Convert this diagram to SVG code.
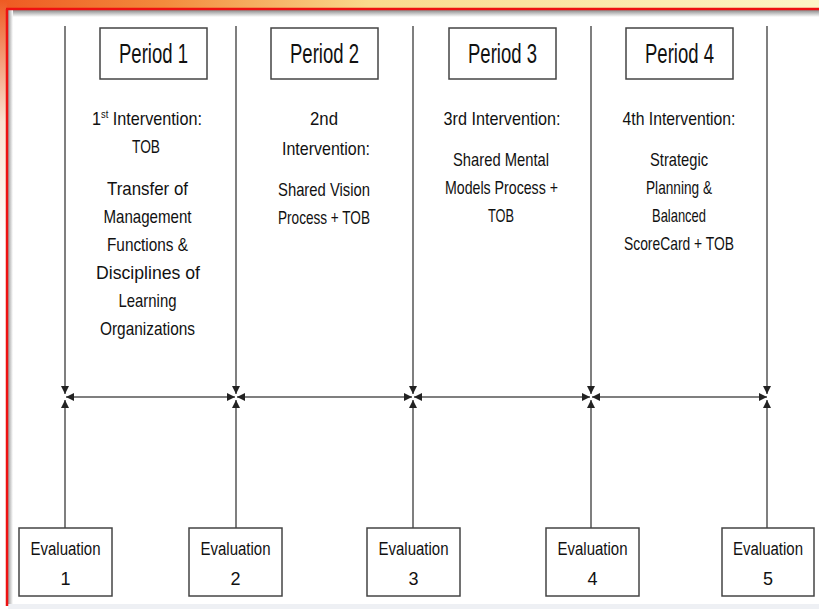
<svg xmlns="http://www.w3.org/2000/svg" width="819" height="609" viewBox="0 0 819 609">
<defs>
<linearGradient id="topband" x1="0" y1="0" x2="1" y2="0">
<stop offset="0" stop-color="#ee5a22"/>
<stop offset="0.2" stop-color="#f38a3c"/>
<stop offset="0.45" stop-color="#fad98c"/>
<stop offset="1" stop-color="#fdf6c6"/>
</linearGradient>
<linearGradient id="leftband" x1="0" y1="0" x2="0" y2="1">
<stop offset="0" stop-color="#ee5a22"/>
<stop offset="0.2" stop-color="#fbe3d2"/>
<stop offset="0.4" stop-color="#ffffff"/>
<stop offset="1" stop-color="#ffffff"/>
</linearGradient>
<linearGradient id="shadeTop" x1="0" y1="0" x2="0" y2="1">
<stop offset="0" stop-color="#8a8a8a"/>
<stop offset="1" stop-color="#ffffff"/>
</linearGradient>
<linearGradient id="shadeLeft" x1="0" y1="0" x2="1" y2="0">
<stop offset="0" stop-color="#9a9a9a"/>
<stop offset="1" stop-color="#ffffff"/>
</linearGradient>
<marker id="ah" viewBox="0 0 10 10" refX="10" refY="5" markerWidth="8" markerHeight="8" markerUnits="userSpaceOnUse" orient="auto-start-reverse">
<path d="M0,0 L10,5 L0,10 z" fill="#222"/>
</marker>
<style>
.box{fill:#fff;stroke:#444;stroke-width:1.5}
.ln{stroke:#555;stroke-width:1.5;fill:none}
.t{font-family:"Liberation Sans Narrow","Liberation Sans",Arial,sans-serif;fill:#111;text-anchor:middle}
.p{font-size:27px}
.b{font-size:19px}
.e{font-size:18px}
</style>
</defs>
<!-- frame -->
<rect x="0" y="0" width="819" height="609" fill="#ffffff"/>
<rect x="0" y="0" width="819" height="9" fill="url(#topband)"/>
<rect x="0" y="0" width="7" height="609" fill="url(#leftband)"/>
<rect x="8" y="10" width="811" height="7" fill="url(#shadeTop)"/>
<rect x="8" y="10" width="5" height="594" fill="url(#shadeLeft)"/>
<rect x="8" y="604" width="811" height="5" fill="#eef0f4"/>
<line x1="6" y1="9" x2="819" y2="9" stroke="#ee1111" stroke-width="2.5"/>
<line x1="7" y1="9" x2="7" y2="606" stroke="#ee1111" stroke-width="2.5"/>

<g id="connectors">
<line class="ln" x1="65" y1="26" x2="65" y2="394" marker-end="url(#ah)"/>
<line class="ln" x1="236" y1="26" x2="236" y2="394" marker-end="url(#ah)"/>
<line class="ln" x1="413" y1="26" x2="413" y2="394" marker-end="url(#ah)"/>
<line class="ln" x1="591" y1="26" x2="591" y2="394" marker-end="url(#ah)"/>
<line class="ln" x1="767" y1="26" x2="767" y2="394" marker-end="url(#ah)"/>
<line class="ln" x1="65" y1="528" x2="65" y2="400" marker-end="url(#ah)"/>
<line class="ln" x1="236" y1="528" x2="236" y2="400" marker-end="url(#ah)"/>
<line class="ln" x1="413" y1="528" x2="413" y2="400" marker-end="url(#ah)"/>
<line class="ln" x1="591" y1="528" x2="591" y2="400" marker-end="url(#ah)"/>
<line class="ln" x1="767" y1="528" x2="767" y2="400" marker-end="url(#ah)"/>
<line class="ln" x1="66" y1="397" x2="235" y2="397" marker-start="url(#ah)" marker-end="url(#ah)"/>
<line class="ln" x1="237" y1="397" x2="412" y2="397" marker-start="url(#ah)" marker-end="url(#ah)"/>
<line class="ln" x1="414" y1="397" x2="590" y2="397" marker-start="url(#ah)" marker-end="url(#ah)"/>
<line class="ln" x1="592" y1="397" x2="767" y2="397" marker-start="url(#ah)" marker-end="url(#ah)"/>
</g>

<g id="period1">
<rect class="box" x="100" y="28" width="107" height="51"/>
<text class="t p" x="153.5" y="63" textLength="69" lengthAdjust="spacingAndGlyphs">Period 1</text>
</g>
<g id="period2">
<rect class="box" x="271" y="28" width="107" height="51"/>
<text class="t p" x="324.5" y="63" textLength="69" lengthAdjust="spacingAndGlyphs">Period 2</text>
</g>
<g id="period3">
<rect class="box" x="449" y="28" width="107" height="51"/>
<text class="t p" x="502.5" y="63" textLength="69" lengthAdjust="spacingAndGlyphs">Period 3</text>
</g>
<g id="period4">
<rect class="box" x="626" y="28" width="107" height="51"/>
<text class="t p" x="679.5" y="63" textLength="69" lengthAdjust="spacingAndGlyphs">Period 4</text>
</g>

<g id="intervention1">
<text class="t b" x="147" y="125" textLength="110" lengthAdjust="spacingAndGlyphs">1<tspan font-size="11" dy="-7">st</tspan><tspan dy="7"> Intervention:</tspan></text>
<text class="t b" x="146" y="153" textLength="28" lengthAdjust="spacingAndGlyphs">TOB</text>
<text class="t b" x="147.5" y="195" textLength="81" lengthAdjust="spacingAndGlyphs">Transfer of</text>
<text class="t b" x="147.5" y="223" textLength="88" lengthAdjust="spacingAndGlyphs">Management</text>
<text class="t b" x="147.5" y="251" textLength="81" lengthAdjust="spacingAndGlyphs">Functions &amp;</text>
<text class="t b" x="148" y="279" textLength="104" lengthAdjust="spacingAndGlyphs">Disciplines of</text>
<text class="t b" x="147.5" y="307" textLength="58" lengthAdjust="spacingAndGlyphs">Learning</text>
<text class="t b" x="147.5" y="335" textLength="95" lengthAdjust="spacingAndGlyphs">Organizations</text>
</g>
<g id="intervention2">
<text class="t b" x="324" y="125" textLength="28" lengthAdjust="spacingAndGlyphs">2nd</text>
<text class="t b" x="326" y="155" textLength="88" lengthAdjust="spacingAndGlyphs">Intervention:</text>
<text class="t b" x="324" y="196" textLength="92" lengthAdjust="spacingAndGlyphs">Shared Vision</text>
<text class="t b" x="324" y="224" textLength="92" lengthAdjust="spacingAndGlyphs">Process + TOB</text>
</g>
<g id="intervention3">
<text class="t b" x="502" y="125" textLength="117" lengthAdjust="spacingAndGlyphs">3rd Intervention:</text>
<text class="t b" x="501" y="166" textLength="96" lengthAdjust="spacingAndGlyphs">Shared Mental</text>
<text class="t b" x="501.5" y="194" textLength="113" lengthAdjust="spacingAndGlyphs">Models Process +</text>
<text class="t b" x="501" y="222" textLength="26" lengthAdjust="spacingAndGlyphs">TOB</text>
</g>
<g id="intervention4">
<text class="t b" x="679" y="125" textLength="113" lengthAdjust="spacingAndGlyphs">4th Intervention:</text>
<text class="t b" x="679" y="166" textLength="58" lengthAdjust="spacingAndGlyphs">Strategic</text>
<text class="t b" x="679" y="194" textLength="66" lengthAdjust="spacingAndGlyphs">Planning &amp;</text>
<text class="t b" x="679" y="222" textLength="54" lengthAdjust="spacingAndGlyphs">Balanced</text>
<text class="t b" x="679" y="250" textLength="110" lengthAdjust="spacingAndGlyphs">ScoreCard + TOB</text>
</g>

<g id="evaluation1">
<rect class="box" x="19" y="528" width="93" height="68"/>
<text class="t e" x="65.5" y="555" textLength="70" lengthAdjust="spacingAndGlyphs">Evaluation</text>
<text class="t e" x="65.5" y="585">1</text>
</g>
<g id="evaluation2">
<rect class="box" x="189" y="528" width="93" height="68"/>
<text class="t e" x="235.5" y="555" textLength="70" lengthAdjust="spacingAndGlyphs">Evaluation</text>
<text class="t e" x="235.5" y="585">2</text>
</g>
<g id="evaluation3">
<rect class="box" x="367" y="528" width="93" height="68"/>
<text class="t e" x="413.5" y="555" textLength="70" lengthAdjust="spacingAndGlyphs">Evaluation</text>
<text class="t e" x="413.5" y="585">3</text>
</g>
<g id="evaluation4">
<rect class="box" x="546" y="528" width="93" height="68"/>
<text class="t e" x="592.5" y="555" textLength="70" lengthAdjust="spacingAndGlyphs">Evaluation</text>
<text class="t e" x="592.5" y="585">4</text>
</g>
<g id="evaluation5">
<rect class="box" x="722" y="528" width="92" height="68"/>
<text class="t e" x="768" y="555" textLength="70" lengthAdjust="spacingAndGlyphs">Evaluation</text>
<text class="t e" x="768" y="585">5</text>
</g>
</svg>
